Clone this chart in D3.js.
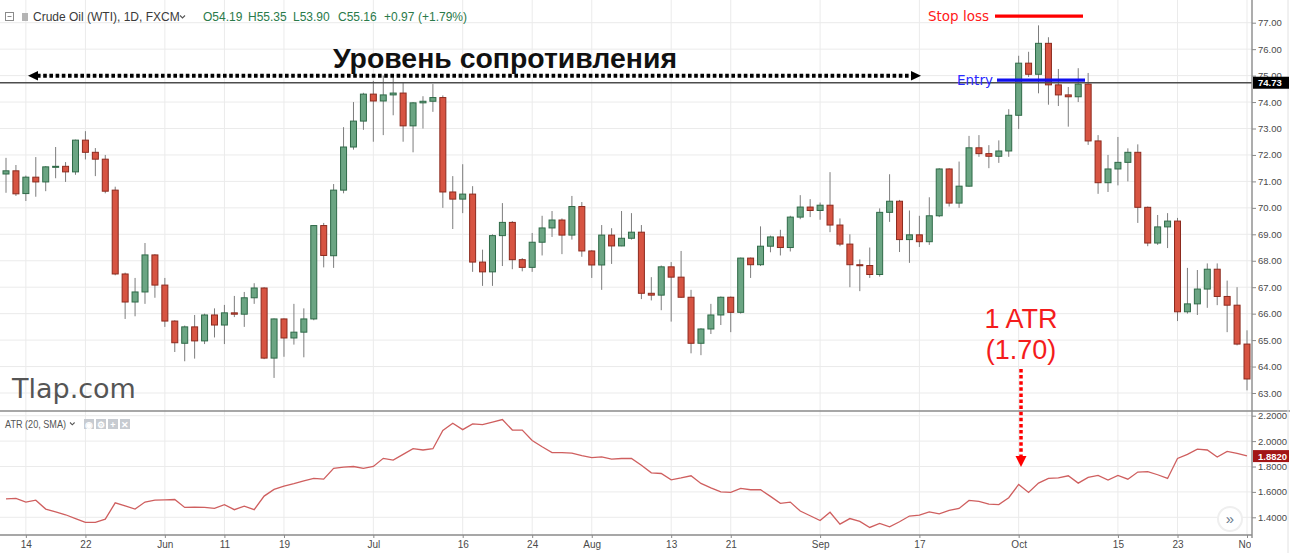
<!DOCTYPE html>
<html>
<head>
<meta charset="utf-8">
<script src="https://cdn.jsdelivr.net/npm/d3@7"></script>
<style>
  html, body { margin: 0; padding: 0; background: #fff; }
  svg { display: block; font-family: "Liberation Sans", Arial, sans-serif; }
</style>
</head>
<body>
<svg id="chart" width="1290" height="553"></svg>
<script>
// daily OHLC (126 bars)
const open = [71.28,71.40,70.54,71.16,70.98,71.55,71.57,71.36,72.56,72.10,71.84,70.67,67.50,66.44,66.82,68.22,67.08,65.72,64.88,65.50,
  64.97,65.95,65.57,66.03,65.98,66.60,66.97,64.32,65.80,65.08,65.30,65.80,69.33,68.19,70.67,72.30,73.28,74.30,74.04,74.27,
  74.34,73.10,73.97,74.03,74.17,70.60,70.33,70.52,67.95,67.58,68.95,69.45,68.04,67.75,68.70,69.24,69.54,68.97,70.05,68.37,
  67.84,68.97,68.56,68.85,69.08,66.77,66.70,67.77,67.38,66.62,64.88,65.42,65.95,66.62,66.05,68.10,67.85,68.55,68.90,68.50,
  69.65,70.03,69.90,70.10,69.35,68.63,67.85,67.82,67.48,69.83,70.25,68.80,68.98,68.72,69.70,71.47,70.18,70.82,72.27,72.05,
  71.95,72.15,73.50,75.47,75.05,76.22,74.65,74.27,74.20,74.68,72.53,70.95,71.47,71.72,72.10,70.02,68.67,69.28,69.50,66.07,
  66.37,66.93,67.68,66.65,66.32,64.85];
const high = [71.89,71.62,71.22,71.92,71.58,72.30,71.73,72.58,72.90,72.26,72.00,70.80,67.55,67.35,68.67,68.25,67.35,65.75,65.55,65.95,
  66.00,66.20,66.33,66.67,66.82,67.15,67.00,65.82,65.82,66.37,66.20,69.35,69.43,70.90,73.05,74.00,74.35,74.80,75.00,74.95,
  74.75,74.00,74.22,74.68,74.25,71.20,71.65,70.82,68.42,69.00,70.18,69.50,68.10,69.05,69.70,69.88,69.60,70.45,70.22,68.40,
  69.35,69.23,69.88,69.80,69.35,67.38,67.82,67.95,68.37,66.90,65.45,66.37,66.65,66.65,68.12,68.12,69.30,68.95,69.17,69.70,
  70.48,70.33,70.20,71.35,69.60,69.00,68.05,68.50,69.98,71.27,70.30,69.90,69.70,70.40,71.50,71.50,71.75,72.72,72.75,72.37,
  72.55,73.73,75.75,75.90,76.90,76.45,75.25,74.57,75.28,75.10,72.75,72.00,72.68,72.25,72.40,70.05,69.73,69.80,69.62,67.73,
  67.65,67.90,67.90,67.25,67.00,65.37];
const low = [70.57,70.45,70.26,70.42,70.63,71.12,70.98,71.25,71.83,71.20,70.55,67.45,65.80,65.90,66.37,66.60,65.50,64.55,64.20,64.30,
  64.85,65.10,64.85,65.87,65.50,66.37,64.28,63.57,64.37,64.83,64.35,65.75,67.75,67.73,70.55,72.20,72.95,72.50,72.75,73.50,
  72.50,72.10,73.00,73.63,70.00,69.20,69.80,67.58,67.05,67.05,67.80,67.68,67.60,67.58,68.20,68.90,68.25,68.80,68.15,67.35,
  66.90,67.88,68.55,68.80,66.55,66.50,66.13,65.70,66.60,64.50,64.43,65.23,65.57,65.30,66.00,67.35,67.80,68.32,68.20,68.35,
  69.57,69.65,69.55,69.08,68.55,67.00,66.85,67.35,67.40,69.47,68.33,67.92,68.52,68.60,69.65,70.05,70.00,70.80,71.93,71.50,
  71.70,71.93,72.98,74.95,74.33,73.90,73.85,73.07,74.00,72.38,70.53,70.60,70.85,71.00,69.43,68.55,68.60,68.48,65.72,66.00,
  65.95,66.22,66.32,65.30,64.80,63.10];
const close = [71.40,70.53,71.16,70.98,71.55,71.57,71.36,72.56,72.10,71.84,70.63,67.50,66.44,66.82,68.22,67.08,65.72,64.90,65.50,64.97,
  65.95,65.57,66.03,65.98,66.60,66.97,64.32,65.80,65.08,65.30,65.80,69.33,68.20,70.67,72.30,73.28,74.30,74.04,74.27,74.34,
  73.10,73.97,74.03,74.17,70.60,70.33,70.52,67.95,67.58,68.95,69.45,68.04,67.75,68.70,69.24,69.54,68.97,70.05,68.37,67.84,
  68.97,68.56,68.85,69.08,66.77,66.70,67.77,67.38,66.62,64.88,65.42,65.95,66.62,66.05,68.10,67.85,68.55,68.90,68.50,69.65,
  70.03,69.90,70.10,69.35,68.63,67.85,67.82,67.48,69.83,70.25,68.80,68.98,68.72,69.70,71.47,70.18,70.82,72.27,72.05,71.95,
  72.15,73.50,75.47,75.05,76.22,74.65,74.27,74.20,74.68,72.53,70.95,71.47,71.72,72.10,70.02,68.67,69.28,69.50,66.07,66.37,
  66.93,67.68,66.65,66.32,64.85,63.53];
// ATR(20, SMA)
const atr = [1.545,1.549,1.520,1.535,1.465,1.443,1.420,1.390,1.360,1.360,1.385,1.514,1.490,1.465,1.520,1.535,1.537,1.540,1.478,1.480,
  1.478,1.470,1.500,1.460,1.488,1.460,1.567,1.620,1.645,1.665,1.687,1.706,1.700,1.785,1.795,1.800,1.785,1.800,1.864,1.850,
  1.895,1.940,1.930,1.940,2.084,2.140,2.090,2.136,2.130,2.150,2.170,2.087,2.087,2.005,1.955,1.910,1.910,1.905,1.885,1.870,
  1.876,1.858,1.863,1.863,1.810,1.750,1.745,1.695,1.710,1.727,1.667,1.632,1.600,1.596,1.627,1.617,1.617,1.565,1.510,1.520,
  1.449,1.412,1.375,1.440,1.346,1.390,1.368,1.320,1.352,1.325,1.365,1.410,1.417,1.443,1.427,1.454,1.470,1.533,1.525,1.504,
  1.500,1.554,1.659,1.596,1.669,1.706,1.710,1.727,1.669,1.714,1.730,1.693,1.730,1.700,1.756,1.760,1.735,1.706,1.863,1.895,
  1.937,1.930,1.874,1.919,1.903,1.884];
// time axis labels (bar index) and price / ATR ticks
const tickIdx = [2, 8, 16, 22, 28, 37, 46, 53, 59, 67, 73, 82, 92, 102, 112, 118, 125];
const tickLabels = ["14", "22", "Jun", "11", "19", "Jul", "16", "24", "Aug", "13", "21", "Sep", "17", "Oct", "15", "23", "Nov"];
const priceTicks = [63, 64, 65, 66, 67, 68, 69, 70, 71, 72, 73, 74, 75, 76, 77];
const atrTicks = [1.4, 1.6, 1.8, 2.0, 2.2];
const lastPrice = 74.73;
const lastAtr = 1.882;
const entryPrice = 74.83;
const stopPrice = 77.25;

const bars = open.map((o, i) => ({ i, o, h: high[i], l: low[i], c: close[i] }));

const svg = d3.select("#chart");
const axisX = 1252, paneSplit = 411, timeY = 535;

const x = d3.scalePoint().domain(d3.range(bars.length)).range([6, 1247]);
const y = d3.scaleLinear().domain([63, 77]).range([393, 22.7]);
const ya = d3.scaleLinear().domain([1.4, 2.2]).range([517.3, 415.7]);

const defs = svg.append("defs");
defs.append("clipPath").attr("id", "clipPrice")
  .append("rect").attr("x", 0).attr("y", 0).attr("width", axisX).attr("height", paneSplit);
defs.append("clipPath").attr("id", "clipAtr")
  .append("rect").attr("x", 0).attr("y", paneSplit).attr("width", axisX).attr("height", timeY - paneSplit);
defs.append("clipPath").attr("id", "clipTime")
  .append("rect").attr("x", 0).attr("y", timeY).attr("width", axisX - 1).attr("height", 20);

// grid
const grid = svg.append("g").attr("stroke", "#ebebeb").attr("stroke-width", 1);
grid.selectAll(".hp").data(priceTicks).enter().append("line")
  .attr("x1", 0).attr("x2", axisX).attr("y1", (d) => y(d)).attr("y2", (d) => y(d));
grid.selectAll(".ha").data(atrTicks).enter().append("line")
  .attr("x1", 0).attr("x2", axisX).attr("y1", (d) => ya(d)).attr("y2", (d) => ya(d));
grid.selectAll(".v").data(tickIdx).enter().append("line")
  .attr("x1", (d) => x(d)).attr("x2", (d) => x(d)).attr("y1", 0).attr("y2", timeY);

// candles
const gCandle = svg.append("g").attr("clip-path", "url(#clipPrice)");
gCandle.selectAll(".wick").data(bars).enter().append("line")
  .attr("x1", (d) => x(d.i)).attr("x2", (d) => x(d.i))
  .attr("y1", (d) => y(d.h)).attr("y2", (d) => y(d.l))
  .attr("stroke", "#7d7d7d").attr("stroke-width", 1);
gCandle.selectAll(".body").data(bars).enter().append("rect")
  .attr("x", (d) => x(d.i) - 3)
  .attr("y", (d) => y(Math.max(d.o, d.c)))
  .attr("width", 6)
  .attr("height", (d) => Math.max(1, Math.abs(y(d.o) - y(d.c))))
  .attr("fill", (d) => (d.c >= d.o ? "#6ba583" : "#d75442"))
  .attr("stroke", (d) => (d.c >= d.o ? "#2f6a48" : "#8c2a1e"))
  .attr("stroke-width", 1);

// last price line
svg.append("line")
  .attr("x1", 0).attr("x2", axisX).attr("y1", y(lastPrice)).attr("y2", y(lastPrice))
  .attr("stroke", "#4d4d4d").attr("stroke-width", 1.3);

// ATR line
const atrLine = d3.line().x((d, i) => x(i)).y((d) => ya(d));
svg.append("path").datum(atr)
  .attr("clip-path", "url(#clipAtr)")
  .attr("d", atrLine)
  .attr("fill", "none").attr("stroke", "#cf5f5f").attr("stroke-width", 1.3);

// pane borders
svg.append("line").attr("x1", 0).attr("x2", 1290).attr("y1", paneSplit).attr("y2", paneSplit)
  .attr("stroke", "#8a8a8a").attr("stroke-width", 1.6);
svg.append("line").attr("x1", 0).attr("x2", axisX).attr("y1", timeY).attr("y2", timeY)
  .attr("stroke", "#8a8a8a").attr("stroke-width", 1.4);
svg.append("line").attr("x1", axisX).attr("x2", axisX).attr("y1", 0).attr("y2", timeY + 3)
  .attr("stroke", "#8a8a8a").attr("stroke-width", 1.4);
svg.append("line").attr("x1", 1288).attr("x2", 1288).attr("y1", 0).attr("y2", 553)
  .attr("stroke", "#e2e2e2").attr("stroke-width", 1);

// axes
const styleAxis = (g) => {
  g.select(".domain").remove();
  g.selectAll(".tick line").attr("stroke", "#8a8a8a");
  g.selectAll(".tick text").attr("fill", "#4a4a4a").attr("font-size", 9.5)
    .attr("font-family", "Liberation Sans, Arial, sans-serif");
};
svg.append("g").attr("transform", `translate(${axisX},0)`)
  .call(d3.axisRight(y).tickValues(priceTicks).tickFormat(d3.format(".2f")).tickSize(4).tickPadding(2))
  .call(styleAxis);
svg.append("g").attr("transform", `translate(${axisX},0)`)
  .call(d3.axisRight(ya).tickValues(atrTicks).tickFormat(d3.format(".4f")).tickSize(4).tickPadding(2))
  .call(styleAxis);
svg.append("g").attr("clip-path", "url(#clipTime)")
  .append("g").attr("transform", `translate(0,${timeY})`)
  .call(d3.axisBottom(x).tickValues(tickIdx).tickFormat((d, i) => tickLabels[i]).tickSize(3).tickPadding(3))
  .call(styleAxis)
  .call((g) => g.selectAll(".tick text").attr("font-size", 10));

// value labels on the axis
const axisBadge = (v, yy, fill, fmt) => {
  svg.append("rect").attr("x", axisX + 1).attr("y", yy - 6).attr("width", 36).attr("height", 12).attr("fill", fill);
  svg.append("text").attr("x", axisX + 6).attr("y", yy + 3.5).attr("fill", "#fff")
    .attr("font-size", 9.5).attr("font-weight", "bold").text(d3.format(fmt)(v));
};
axisBadge(lastPrice, y(lastPrice), "#000", ".2f");
axisBadge(lastAtr, ya(lastAtr), "#a31616", ".4f");

// header
const hdr = svg.append("g");
hdr.append("rect").attr("x", 5.5).attr("y", 12.5).attr("width", 8).attr("height", 8)
  .attr("fill", "none").attr("stroke", "#8a8a8a");
hdr.append("line").attr("x1", 7.5).attr("x2", 11.5).attr("y1", 16.5).attr("y2", 16.5).attr("stroke", "#8a8a8a");
hdr.append("rect").attr("x", 22).attr("y", 13).attr("width", 6).attr("height", 8).attr("fill", "#b4b4b4");
hdr.append("text").attr("x", 33).attr("y", 21).attr("font-size", 12).attr("fill", "#3a3a3a")
  .text("Crude Oil (WTI), 1D, FXCM");
hdr.append("path").attr("d", "M180,15.5 l2.5,2.5 l2.5,-2.5").attr("fill", "none").attr("stroke", "#555").attr("stroke-width", 1.1);
const ohlcText = [["O54.19", 203], ["H55.35", 248], ["L53.90", 293], ["C55.16", 338], ["+0.97", 384], ["(+1.79%)", 418]];
hdr.selectAll(".ohlc").data(ohlcText).enter().append("text")
  .attr("x", (d) => d[1]).attr("y", 21).attr("font-size", 12).attr("fill", "#2a7a4a")
  .text((d) => d[0]);

// ATR legend
const leg = svg.append("g");
leg.append("text").attr("x", 5).attr("y", 428).attr("font-size", 10.5).attr("fill", "#555")
  .attr("textLength", 61).attr("lengthAdjust", "spacingAndGlyphs").text("ATR (20, SMA)");
leg.append("path").attr("d", "M70,422.5 l2.3,2.3 l2.3,-2.3").attr("fill", "none").attr("stroke", "#555").attr("stroke-width", 1.1);
const icons = ["◉", "⚙", "+", "✕"];
leg.selectAll(".ic").data(icons).enter().append("rect")
  .attr("x", (d, i) => 84 + i * 12).attr("y", 419).attr("width", 10).attr("height", 10).attr("fill", "#c7cbd1");
leg.selectAll(".ict").data(icons).enter().append("text")
  .attr("x", (d, i) => 89 + i * 12).attr("y", 427.5).attr("text-anchor", "middle")
  .attr("font-size", 9).attr("font-weight", "bold").attr("fill", "#fff").text((d) => d);

// scroll button
svg.append("circle").attr("cx", 1230).attr("cy", 519).attr("r", 12).attr("fill", "#fff")
  .attr("stroke", "#efefef").attr("stroke-width", 2);
svg.append("text").attr("x", 1230).attr("y", 524).attr("text-anchor", "middle")
  .attr("font-size", 15).attr("fill", "#6a7a8c").text("»");

// resistance annotation
const ann = svg.append("g");
ann.append("text").attr("x", 333).attr("y", 68).attr("font-size", 28).attr("font-weight", "bold")
  .attr("fill", "#111").attr("textLength", 344).attr("lengthAdjust", "spacingAndGlyphs")
  .text("Уровень сопротивления");
const resY = 75.7;
ann.append("line").attr("x1", 37).attr("x2", 911).attr("y1", resY).attr("y2", resY)
  .attr("stroke", "#000").attr("stroke-width", 4).attr("stroke-dasharray", "3.6,2.6");
ann.append("path").attr("d", `M28,${resY} L38,${resY - 4.8} L38,${resY + 4.8} Z`).attr("fill", "#000");
ann.append("path").attr("d", `M921,${resY} L911,${resY - 4.8} L911,${resY + 4.8} Z`).attr("fill", "#000");

// stop loss / entry
ann.append("text").attr("x", 928).attr("y", 21).attr("font-family", "DejaVu Sans, sans-serif")
  .attr("font-size", 13.5).attr("fill", "#ff1a1a").text("Stop loss");
ann.append("line").attr("x1", 995).attr("x2", 1083).attr("y1", y(stopPrice)).attr("y2", y(stopPrice))
  .attr("stroke", "#ff0000").attr("stroke-width", 3.2);
ann.append("text").attr("x", 957).attr("y", 85).attr("font-family", "DejaVu Sans, sans-serif")
  .attr("font-size", 13.5).attr("fill", "#2a2aff").text("Entry");
ann.append("line").attr("x1", 997).attr("x2", 1085).attr("y1", y(entryPrice)).attr("y2", y(entryPrice))
  .attr("stroke", "#1010f0").attr("stroke-width", 3.4);

// 1 ATR callout
ann.append("text").attr("x", 1021).attr("y", 328).attr("text-anchor", "middle")
  .attr("font-size", 27).attr("fill", "#f41c1c").text("1 ATR");
ann.append("text").attr("x", 1021).attr("y", 359).attr("text-anchor", "middle")
  .attr("font-size", 27).attr("fill", "#f41c1c").text("(1.70)");
ann.append("line").attr("x1", 1021).attr("x2", 1021).attr("y1", 369).attr("y2", 457)
  .attr("stroke", "#ff0000").attr("stroke-width", 3.5).attr("stroke-dasharray", "3.5,2.6");
ann.append("path").attr("d", "M1015.5,456 L1026.5,456 L1021,467 Z").attr("fill", "#ff0000");

// watermark
svg.append("text").attr("x", 12).attr("y", 398).attr("font-family", "DejaVu Sans, sans-serif")
  .attr("font-size", 27).attr("fill", "#555").text("Tlap.com");
</script>
</body>
</html>
